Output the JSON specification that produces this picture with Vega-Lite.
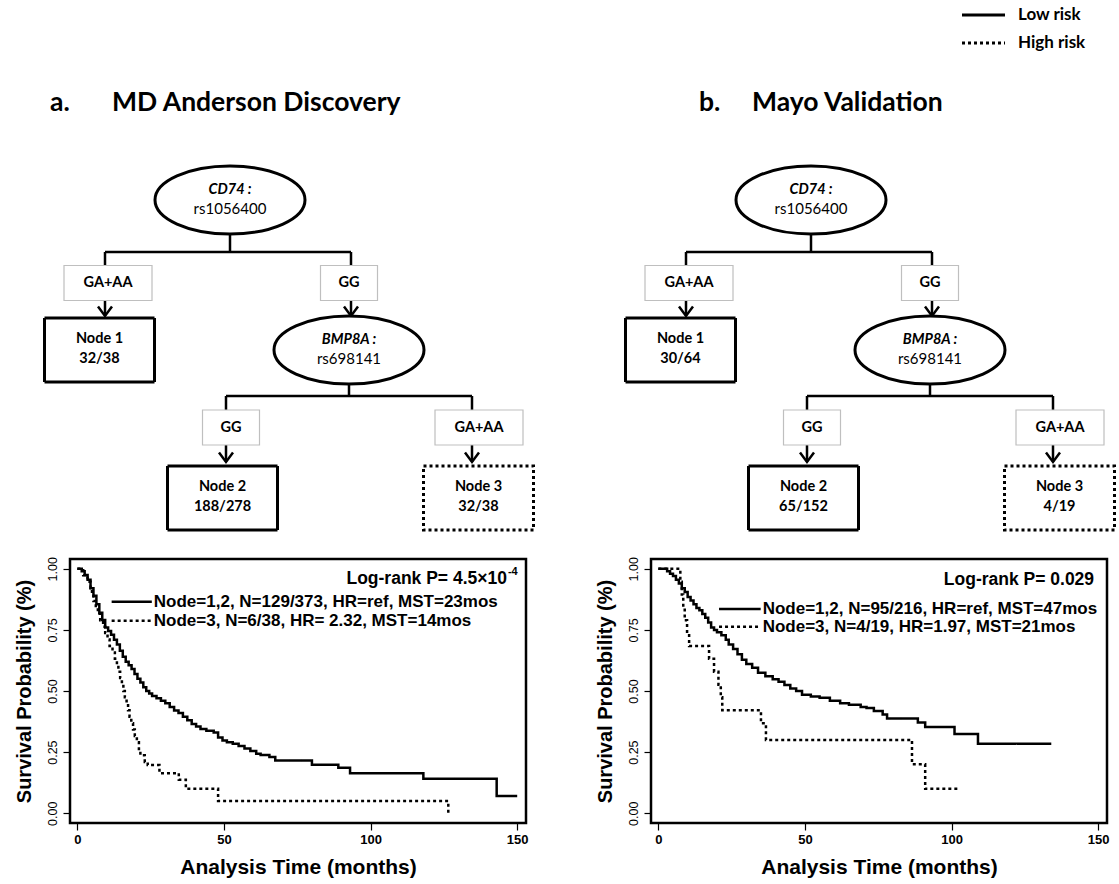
{
  "$schema": "https://vega.github.io/schema/vega-lite/v6.json",
  "background": "white",
  "padding": {"left": 12, "top": 0, "right": 5, "bottom": 5},
  "config": {
    "view": {"stroke": null},
    "font": "Liberation Sans",
    "axis": {"labelColor": "black", "titleColor": "black", "tickColor": "black", "grid": false, "domain": false}
  },
  "datasets": {
    "km_mda": [
      {"risk": "Low risk", "month": 0, "surv": 1.0}, {"risk": "Low risk", "month": 1.5, "surv": 0.99}, {"risk": "Low risk", "month": 2.5, "surv": 0.975}, {"risk": "Low risk", "month": 3.5, "surv": 0.955}, {"risk": "Low risk", "month": 4.5, "surv": 0.92}, {"risk": "Low risk", "month": 5.5, "surv": 0.89}, {"risk": "Low risk", "month": 6.5, "surv": 0.855}, {"risk": "Low risk", "month": 7.5, "surv": 0.82}, {"risk": "Low risk", "month": 8.5, "surv": 0.79}, {"risk": "Low risk", "month": 9.5, "surv": 0.76}, {"risk": "Low risk", "month": 10.5, "surv": 0.745}, {"risk": "Low risk", "month": 11.5, "surv": 0.73}, {"risk": "Low risk", "month": 12.5, "surv": 0.71}, {"risk": "Low risk", "month": 13.5, "surv": 0.69}, {"risk": "Low risk", "month": 14.5, "surv": 0.665}, {"risk": "Low risk", "month": 15.5, "surv": 0.64}, {"risk": "Low risk", "month": 16.5, "surv": 0.62}, {"risk": "Low risk", "month": 17.5, "surv": 0.605}, {"risk": "Low risk", "month": 18.5, "surv": 0.59}, {"risk": "Low risk", "month": 19.5, "surv": 0.57}, {"risk": "Low risk", "month": 20.5, "surv": 0.55}, {"risk": "Low risk", "month": 21.5, "surv": 0.535}, {"risk": "Low risk", "month": 22.5, "surv": 0.515}, {"risk": "Low risk", "month": 23.5, "surv": 0.5}, {"risk": "Low risk", "month": 24.5, "surv": 0.49}, {"risk": "Low risk", "month": 25.5, "surv": 0.48}, {"risk": "Low risk", "month": 27, "surv": 0.47}, {"risk": "Low risk", "month": 28.5, "surv": 0.46}, {"risk": "Low risk", "month": 30, "surv": 0.45}, {"risk": "Low risk", "month": 31.5, "surv": 0.435}, {"risk": "Low risk", "month": 33, "surv": 0.42}, {"risk": "Low risk", "month": 34.5, "surv": 0.41}, {"risk": "Low risk", "month": 36, "surv": 0.395}, {"risk": "Low risk", "month": 37.5, "surv": 0.38}, {"risk": "Low risk", "month": 39, "surv": 0.365}, {"risk": "Low risk", "month": 40.5, "surv": 0.355}, {"risk": "Low risk", "month": 42, "surv": 0.345}, {"risk": "Low risk", "month": 44, "surv": 0.337}, {"risk": "Low risk", "month": 46.5, "surv": 0.33}, {"risk": "Low risk", "month": 48, "surv": 0.31}, {"risk": "Low risk", "month": 49.5, "surv": 0.298}, {"risk": "Low risk", "month": 51, "surv": 0.29}, {"risk": "Low risk", "month": 53, "surv": 0.284}, {"risk": "Low risk", "month": 55, "surv": 0.275}, {"risk": "Low risk", "month": 57, "surv": 0.265}, {"risk": "Low risk", "month": 59, "surv": 0.255}, {"risk": "Low risk", "month": 61, "surv": 0.243}, {"risk": "Low risk", "month": 62.5, "surv": 0.238}, {"risk": "Low risk", "month": 65.5, "surv": 0.23}, {"risk": "Low risk", "month": 67.5, "surv": 0.216}, {"risk": "Low risk", "month": 80, "surv": 0.198}, {"risk": "Low risk", "month": 89, "surv": 0.186}, {"risk": "Low risk", "month": 93, "surv": 0.164}, {"risk": "Low risk", "month": 118, "surv": 0.141}, {"risk": "Low risk", "month": 143, "surv": 0.07}, {"risk": "Low risk", "month": 150, "surv": 0.07},
      {"risk": "High risk", "month": 0, "surv": 1.0}, {"risk": "High risk", "month": 2, "surv": 0.974}, {"risk": "High risk", "month": 3.5, "surv": 0.947}, {"risk": "High risk", "month": 4.5, "surv": 0.921}, {"risk": "High risk", "month": 5, "surv": 0.895}, {"risk": "High risk", "month": 5.5, "surv": 0.868}, {"risk": "High risk", "month": 6.3, "surv": 0.842}, {"risk": "High risk", "month": 7, "surv": 0.816}, {"risk": "High risk", "month": 7.8, "surv": 0.789}, {"risk": "High risk", "month": 8.8, "surv": 0.763}, {"risk": "High risk", "month": 9.5, "surv": 0.737}, {"risk": "High risk", "month": 10.3, "surv": 0.711}, {"risk": "High risk", "month": 11, "surv": 0.684}, {"risk": "High risk", "month": 12, "surv": 0.658}, {"risk": "High risk", "month": 12.8, "surv": 0.632}, {"risk": "High risk", "month": 13.5, "surv": 0.605}, {"risk": "High risk", "month": 14, "surv": 0.579}, {"risk": "High risk", "month": 14.6, "surv": 0.553}, {"risk": "High risk", "month": 15.2, "surv": 0.526}, {"risk": "High risk", "month": 15.7, "surv": 0.5}, {"risk": "High risk", "month": 16.2, "surv": 0.474}, {"risk": "High risk", "month": 16.8, "surv": 0.447}, {"risk": "High risk", "month": 17.3, "surv": 0.421}, {"risk": "High risk", "month": 17.8, "surv": 0.395}, {"risk": "High risk", "month": 18.4, "surv": 0.368}, {"risk": "High risk", "month": 19, "surv": 0.342}, {"risk": "High risk", "month": 19.6, "surv": 0.316}, {"risk": "High risk", "month": 20.3, "surv": 0.29}, {"risk": "High risk", "month": 21, "surv": 0.263}, {"risk": "High risk", "month": 21.5, "surv": 0.237}, {"risk": "High risk", "month": 23, "surv": 0.21}, {"risk": "High risk", "month": 24, "surv": 0.197}, {"risk": "High risk", "month": 28, "surv": 0.164}, {"risk": "High risk", "month": 34.6, "surv": 0.137}, {"risk": "High risk", "month": 37, "surv": 0.1}, {"risk": "High risk", "month": 48, "surv": 0.05}, {"risk": "High risk", "month": 126.5, "surv": 0.0}, {"risk": "High risk", "month": 127, "surv": 0.0}
    ],
    "km_mayo": [
      {"risk": "Low risk", "month": 0, "surv": 1.0}, {"risk": "Low risk", "month": 3, "surv": 0.99}, {"risk": "Low risk", "month": 4, "surv": 0.98}, {"risk": "Low risk", "month": 5, "surv": 0.97}, {"risk": "Low risk", "month": 6, "surv": 0.955}, {"risk": "Low risk", "month": 7, "surv": 0.94}, {"risk": "Low risk", "month": 8, "surv": 0.92}, {"risk": "Low risk", "month": 9, "surv": 0.905}, {"risk": "Low risk", "month": 10, "surv": 0.885}, {"risk": "Low risk", "month": 11, "surv": 0.87}, {"risk": "Low risk", "month": 12, "surv": 0.855}, {"risk": "Low risk", "month": 13, "surv": 0.84}, {"risk": "Low risk", "month": 14, "surv": 0.83}, {"risk": "Low risk", "month": 15, "surv": 0.815}, {"risk": "Low risk", "month": 16, "surv": 0.8}, {"risk": "Low risk", "month": 17, "surv": 0.78}, {"risk": "Low risk", "month": 18, "surv": 0.76}, {"risk": "Low risk", "month": 19, "surv": 0.75}, {"risk": "Low risk", "month": 20, "surv": 0.74}, {"risk": "Low risk", "month": 21.5, "surv": 0.728}, {"risk": "Low risk", "month": 23, "surv": 0.71}, {"risk": "Low risk", "month": 24, "surv": 0.69}, {"risk": "Low risk", "month": 25.5, "surv": 0.672}, {"risk": "Low risk", "month": 27, "surv": 0.65}, {"risk": "Low risk", "month": 28.5, "surv": 0.628}, {"risk": "Low risk", "month": 30, "surv": 0.61}, {"risk": "Low risk", "month": 32, "surv": 0.595}, {"risk": "Low risk", "month": 34, "surv": 0.575}, {"risk": "Low risk", "month": 36.5, "surv": 0.56}, {"risk": "Low risk", "month": 39, "surv": 0.548}, {"risk": "Low risk", "month": 41, "surv": 0.538}, {"risk": "Low risk", "month": 43, "surv": 0.525}, {"risk": "Low risk", "month": 45, "surv": 0.51}, {"risk": "Low risk", "month": 47, "surv": 0.5}, {"risk": "Low risk", "month": 49, "surv": 0.485}, {"risk": "Low risk", "month": 52, "surv": 0.478}, {"risk": "Low risk", "month": 55, "surv": 0.472}, {"risk": "Low risk", "month": 58.5, "surv": 0.46}, {"risk": "Low risk", "month": 62, "surv": 0.45}, {"risk": "Low risk", "month": 65, "surv": 0.444}, {"risk": "Low risk", "month": 69, "surv": 0.435}, {"risk": "Low risk", "month": 71, "surv": 0.43}, {"risk": "Low risk", "month": 73.5, "surv": 0.418}, {"risk": "Low risk", "month": 76.5, "surv": 0.404}, {"risk": "Low risk", "month": 78, "surv": 0.388}, {"risk": "Low risk", "month": 88.5, "surv": 0.371}, {"risk": "Low risk", "month": 91, "surv": 0.353}, {"risk": "Low risk", "month": 101, "surv": 0.324}, {"risk": "Low risk", "month": 109, "surv": 0.284}, {"risk": "Low risk", "month": 134, "surv": 0.284},
      {"risk": "High risk", "month": 0, "surv": 1.0}, {"risk": "High risk", "month": 7.5, "surv": 0.947}, {"risk": "High risk", "month": 8, "surv": 0.895}, {"risk": "High risk", "month": 8.5, "surv": 0.842}, {"risk": "High risk", "month": 9, "surv": 0.789}, {"risk": "High risk", "month": 9.8, "surv": 0.737}, {"risk": "High risk", "month": 10.5, "surv": 0.684}, {"risk": "High risk", "month": 17.3, "surv": 0.632}, {"risk": "High risk", "month": 19, "surv": 0.579}, {"risk": "High risk", "month": 20.5, "surv": 0.526}, {"risk": "High risk", "month": 21.3, "surv": 0.474}, {"risk": "High risk", "month": 21.8, "surv": 0.421}, {"risk": "High risk", "month": 35, "surv": 0.368}, {"risk": "High risk", "month": 36.7, "surv": 0.3}, {"risk": "High risk", "month": 86.5, "surv": 0.2}, {"risk": "High risk", "month": 91, "surv": 0.1}, {"risk": "High risk", "month": 102, "surv": 0.1}
    ],
    "keys_mda": [
      {"risk": "Low risk", "month": 11.7, "month_end": 25.4, "surv": 0.865, "label": "Node=1,2, N=129/373, HR=ref, MST=23mos"},
      {"risk": "High risk", "month": 11.7, "month_end": 25.4, "surv": 0.787, "label": "Node=3, N=6/38, HR= 2.32, MST=14mos"}
    ],
    "keys_mayo": [
      {"risk": "Low risk", "month": 20.7, "month_end": 34.9, "surv": 0.835, "label": "Node=1,2, N=95/216, HR=ref, MST=47mos"},
      {"risk": "High risk", "month": 20.7, "month_end": 34.9, "surv": 0.763, "label": "Node=3, N=4/19, HR=1.97, MST=21mos"}
    ],
    "notes_mda": [{"month": 146.5, "surv": 0.958, "text": "Log-rank P= 4.5×10", "sup": "-4"}],
    "notes_mayo": [{"month": 148.6, "surv": 0.955, "text": "Log-rank P= 0.029", "sup": ""}],
    "edges": [
      {"x": 160, "y": 234, "x2": 160, "y2": 252},
      {"x": 35, "y": 252, "x2": 281, "y2": 252},
      {"x": 35, "y": 252, "x2": 35, "y2": 266},
      {"x": 281, "y": 252, "x2": 281, "y2": 266},
      {"x": 279, "y": 384, "x2": 279, "y2": 396},
      {"x": 156, "y": 396, "x2": 402, "y2": 396},
      {"x": 156, "y": 396, "x2": 156, "y2": 410},
      {"x": 402, "y": 396, "x2": 402, "y2": 410}
    ],
    "arrows": [
      {"x": 35, "y": 300, "tip": 316},
      {"x": 281, "y": 300, "tip": 316},
      {"x": 156, "y": 445, "tip": 462},
      {"x": 402, "y": 445, "tip": 462}
    ],
    "splits": [
      {"x": 160, "y": 200, "gene": "CD74 :", "snp": "rs1056400"},
      {"x": 279, "y": 350, "gene": "BMP8A :", "snp": "rs698141"}
    ],
    "branches": [
      {"x": 38, "y": 283, "genotype": "GA+AA"},
      {"x": 279, "y": 283, "genotype": "GG"},
      {"x": 161, "y": 427.5, "genotype": "GG"},
      {"x": 409, "y": 427.5, "genotype": "GA+AA"}
    ],
    "leaves": [
      {"cohort": "MDA", "x": 29.5, "y": 350, "node": "Node 1", "count": "32/38", "risk": "Low risk"},
      {"cohort": "MDA", "x": 152.5, "y": 498, "node": "Node 2", "count": "188/278", "risk": "Low risk"},
      {"cohort": "MDA", "x": 408.5, "y": 498, "node": "Node 3", "count": "32/38", "risk": "High risk"},
      {"cohort": "Mayo", "x": 29.5, "y": 350, "node": "Node 1", "count": "30/64", "risk": "Low risk"},
      {"cohort": "Mayo", "x": 152.5, "y": 498, "node": "Node 2", "count": "65/152", "risk": "Low risk"},
      {"cohort": "Mayo", "x": 408.5, "y": 498, "node": "Node 3", "count": "4/19", "risk": "High risk"}
    ],
    "titles": [
      {"cohort": "MDA", "x": -20, "x_name": 42, "y": 103, "letter": "a.", "name": "MD Anderson Discovery"},
      {"cohort": "Mayo", "x": 48, "x_name": 101, "y": 103, "letter": "b.", "name": "Mayo Validation"}
    ],
    "risk_key": [
      {"risk": "Low risk", "x": 311, "x2": 354, "y": 15},
      {"risk": "High risk", "x": 311, "x2": 354, "y": 43}
    ]
  },
  "bounds": "flush",
  "spacing": 581,
  "hconcat": [
    {
      "bounds": "flush",
      "spacing": 11,
      "vconcat": [
        {
          "width": 456,
          "height": 548,
          "encoding": {
            "x": {"field": "x", "type": "quantitative", "scale": {"domain": [0, 456]}, "axis": null},
            "y": {"field": "y", "type": "quantitative", "scale": {"domain": [0, 548], "reverse": true}, "axis": null}
          },
          "layer": [
            {"data": {"name": "edges"}, "mark": {"type": "rule", "color": "black", "strokeWidth": 2.5}, "encoding": {"x2": {"field": "x2"}, "y2": {"field": "y2"}}},
            {"data": {"name": "arrows"}, "mark": {"type": "rule", "color": "black", "strokeWidth": 2.5}, "encoding": {"y2": {"field": "tip"}}},
            {"data": {"name": "arrows"}, "mark": {"type": "point", "shape": "M-0.14,-0.19L0,0L0.14,-0.19", "size": 10000, "filled": false, "stroke": "black", "strokeWidth": 2.5, "opacity": 1, "strokeCap": "butt"}, "encoding": {"y": {"field": "tip", "type": "quantitative", "scale": {"domain": [0, 548], "reverse": true}, "axis": null}}},
            {"data": {"name": "branches"}, "mark": {"type": "point", "size": 10000, "filled": true, "fill": "white", "stroke": "#bfbfbf", "strokeWidth": 1.2, "opacity": 1}, "encoding": {"shape": {"field": "genotype", "type": "nominal", "scale": {"domain": ["GA+AA", "GG"], "range": ["M-0.88,-0.35H0.88V0.35H-0.88Z", "M-0.57,-0.35H0.57V0.35H-0.57Z"]}, "legend": null}}},
            {"data": {"name": "branches"}, "mark": {"type": "text", "font": "Lato", "fontWeight": "bold", "fontSize": 14.5, "color": "black", "baseline": "middle"}, "encoding": {"text": {"field": "genotype"}}},
            {"data": {"name": "splits"}, "mark": {"type": "point", "shape": "M-1.5,0C-1.5,-0.376,-0.828,-0.68,0,-0.68C0.828,-0.68,1.5,-0.376,1.5,0C1.5,0.376,0.828,0.68,0,0.68C-0.828,0.68,-1.5,0.376,-1.5,0Z", "size": 10000, "filled": true, "fill": "white", "stroke": "black", "strokeWidth": 3, "opacity": 1}},
            {"data": {"name": "splits"}, "mark": {"type": "text", "font": "Lato", "fontWeight": "bold", "fontStyle": "italic", "fontSize": 14.5, "color": "black", "baseline": "middle", "dy": -10}, "encoding": {"text": {"field": "gene"}}},
            {"data": {"name": "splits"}, "mark": {"type": "text", "font": "Lato", "fontWeight": "normal", "fontSize": 15, "color": "black", "baseline": "middle", "dy": 9}, "encoding": {"text": {"field": "snp"}}},
            {"data": {"name": "leaves"}, "transform": [{"filter": "datum.cohort === 'MDA'"}], "mark": {"type": "point", "shape": "M-1.1,-0.64H1.1V0.64H-1.1Z", "size": 10000, "filled": true, "fill": "white", "stroke": "black", "strokeWidth": 3, "opacity": 1}, "encoding": {"strokeDash": {"field": "risk", "type": "nominal", "scale": {"domain": ["Low risk", "High risk"], "range": [[1, 0], [3, 3]]}, "legend": null}}},
            {"data": {"name": "leaves"}, "transform": [{"filter": "datum.cohort === 'MDA'"}], "mark": {"type": "text", "font": "Lato", "fontWeight": "bold", "fontSize": 14.5, "color": "black", "baseline": "middle", "dy": -11}, "encoding": {"text": {"field": "node"}}},
            {"data": {"name": "leaves"}, "transform": [{"filter": "datum.cohort === 'MDA'"}], "mark": {"type": "text", "font": "Lato", "fontWeight": "bold", "fontSize": 14.5, "color": "black", "baseline": "middle", "dy": 9}, "encoding": {"text": {"field": "count"}}},
            {"data": {"name": "titles"}, "transform": [{"filter": "datum.cohort === 'MDA'"}], "mark": {"type": "text", "font": "Lato", "fontWeight": "bold", "fontSize": 26.5, "color": "black", "baseline": "middle", "align": "left"}, "encoding": {"text": {"field": "letter"}}},
            {"data": {"name": "titles"}, "transform": [{"filter": "datum.cohort === 'MDA'"}], "mark": {"type": "text", "font": "Lato", "fontWeight": "bold", "fontSize": 26.5, "color": "black", "baseline": "middle", "align": "left"}, "encoding": {"x": {"field": "x_name", "type": "quantitative", "scale": {"domain": [0, 456]}, "axis": null}, "text": {"field": "name"}}}
          ]
        },
        {
          "width": 456,
          "height": 264,
          "view": {"stroke": "black", "strokeWidth": 2.5},
          "layer": [
            {
              "data": {"name": "km_mda"},
              "mark": {"type": "line", "interpolate": "step-after", "color": "black", "strokeWidth": 2.5},
              "encoding": {
                "x": {"field": "month", "type": "quantitative", "scale": {"domain": [-2.5, 153], "nice": false, "zero": false},
                  "axis": {"values": [0, 50, 100, 150], "title": "Analysis Time (months)", "tickSize": 7, "tickWidth": 1.2, "labelFont": "Liberation Sans", "labelFontWeight": "bold", "labelFontSize": 13, "labelPadding": 3, "labelFlush": false, "titleFont": "Liberation Sans", "titleFontSize": 21, "titleFontWeight": "bold", "titlePadding": 10}},
                "y": {"field": "surv", "type": "quantitative", "scale": {"domain": [-0.04, 1.04], "nice": false, "zero": false},
                  "axis": {"values": [0, 0.25, 0.5, 0.75, 1], "format": ".2f", "title": "Survival Probability (%)", "labelAngle": 270, "tickSize": 7, "tickWidth": 1.2, "labelFont": "Liberation Sans", "labelFontSize": 12.5, "labelFontWeight": "normal", "labelPadding": 4, "labelFlush": false, "titleFont": "Liberation Sans", "titleFontSize": 20, "titleFontWeight": "bold", "titlePadding": 12}},
                "strokeDash": {"field": "risk", "type": "nominal", "scale": {"domain": ["Low risk", "High risk"], "range": [[1, 0], [2.5, 3]]}, "legend": null}
              }
            },
            {
              "data": {"name": "keys_mda"},
              "mark": {"type": "rule", "color": "black", "strokeWidth": 2.5},
              "encoding": {
                "x": {"field": "month", "type": "quantitative", "scale": {"domain": [-2.5, 153], "nice": false, "zero": false}},
                "x2": {"field": "month_end"},
                "y": {"field": "surv", "type": "quantitative", "scale": {"domain": [-0.04, 1.04], "nice": false, "zero": false}},
                "strokeDash": {"field": "risk", "type": "nominal", "legend": null}
              }
            },
            {
              "data": {"name": "keys_mda"},
              "mark": {"type": "text", "align": "left", "baseline": "middle", "dx": 2, "fontSize": 17, "fontWeight": "bold", "font": "Liberation Sans", "color": "black"},
              "encoding": {
                "x": {"field": "month_end", "type": "quantitative", "scale": {"domain": [-2.5, 153], "nice": false, "zero": false}},
                "y": {"field": "surv", "type": "quantitative", "scale": {"domain": [-0.04, 1.04], "nice": false, "zero": false}},
                "text": {"field": "label"}
              }
            },
            {
              "data": {"name": "notes_mda"},
              "mark": {"type": "text", "align": "right", "baseline": "middle", "fontSize": 17.5, "fontWeight": "bold", "font": "Liberation Sans", "color": "black"},
              "encoding": {
                "x": {"field": "month", "type": "quantitative", "scale": {"domain": [-2.5, 153], "nice": false, "zero": false}},
                "y": {"field": "surv", "type": "quantitative", "scale": {"domain": [-0.04, 1.04], "nice": false, "zero": false}},
                "text": {"field": "text"}
              }
            },
            {
              "data": {"name": "notes_mda"},
              "mark": {"type": "text", "align": "left", "baseline": "middle", "dx": 1, "dy": -7, "fontSize": 11, "fontWeight": "bold", "font": "Liberation Sans", "color": "black"},
              "encoding": {
                "x": {"field": "month", "type": "quantitative", "scale": {"domain": [-2.5, 153], "nice": false, "zero": false}},
                "y": {"field": "surv", "type": "quantitative", "scale": {"domain": [-0.04, 1.04], "nice": false, "zero": false}},
                "text": {"field": "sup"}
              }
            }
          ]
        }
      ]
    },
    {
      "bounds": "flush",
      "spacing": 11,
      "vconcat": [
        {
          "width": 456,
          "height": 548,
          "encoding": {
            "x": {"field": "x", "type": "quantitative", "scale": {"domain": [0, 456]}, "axis": null},
            "y": {"field": "y", "type": "quantitative", "scale": {"domain": [0, 548], "reverse": true}, "axis": null}
          },
          "layer": [
            {"data": {"name": "edges"}, "mark": {"type": "rule", "color": "black", "strokeWidth": 2.5}, "encoding": {"x2": {"field": "x2"}, "y2": {"field": "y2"}}},
            {"data": {"name": "arrows"}, "mark": {"type": "rule", "color": "black", "strokeWidth": 2.5}, "encoding": {"y2": {"field": "tip"}}},
            {"data": {"name": "arrows"}, "mark": {"type": "point", "shape": "M-0.14,-0.19L0,0L0.14,-0.19", "size": 10000, "filled": false, "stroke": "black", "strokeWidth": 2.5, "opacity": 1, "strokeCap": "butt"}, "encoding": {"y": {"field": "tip", "type": "quantitative", "scale": {"domain": [0, 548], "reverse": true}, "axis": null}}},
            {"data": {"name": "branches"}, "mark": {"type": "point", "size": 10000, "filled": true, "fill": "white", "stroke": "#bfbfbf", "strokeWidth": 1.2, "opacity": 1}, "encoding": {"shape": {"field": "genotype", "type": "nominal", "scale": {"domain": ["GA+AA", "GG"], "range": ["M-0.88,-0.35H0.88V0.35H-0.88Z", "M-0.57,-0.35H0.57V0.35H-0.57Z"]}, "legend": null}}},
            {"data": {"name": "branches"}, "mark": {"type": "text", "font": "Lato", "fontWeight": "bold", "fontSize": 14.5, "color": "black", "baseline": "middle"}, "encoding": {"text": {"field": "genotype"}}},
            {"data": {"name": "splits"}, "mark": {"type": "point", "shape": "M-1.5,0C-1.5,-0.376,-0.828,-0.68,0,-0.68C0.828,-0.68,1.5,-0.376,1.5,0C1.5,0.376,0.828,0.68,0,0.68C-0.828,0.68,-1.5,0.376,-1.5,0Z", "size": 10000, "filled": true, "fill": "white", "stroke": "black", "strokeWidth": 3, "opacity": 1}},
            {"data": {"name": "splits"}, "mark": {"type": "text", "font": "Lato", "fontWeight": "bold", "fontStyle": "italic", "fontSize": 14.5, "color": "black", "baseline": "middle", "dy": -10}, "encoding": {"text": {"field": "gene"}}},
            {"data": {"name": "splits"}, "mark": {"type": "text", "font": "Lato", "fontWeight": "normal", "fontSize": 15, "color": "black", "baseline": "middle", "dy": 9}, "encoding": {"text": {"field": "snp"}}},
            {"data": {"name": "leaves"}, "transform": [{"filter": "datum.cohort === 'Mayo'"}], "mark": {"type": "point", "shape": "M-1.1,-0.64H1.1V0.64H-1.1Z", "size": 10000, "filled": true, "fill": "white", "stroke": "black", "strokeWidth": 3, "opacity": 1}, "encoding": {"strokeDash": {"field": "risk", "type": "nominal", "scale": {"domain": ["Low risk", "High risk"], "range": [[1, 0], [3, 3]]}, "legend": null}}},
            {"data": {"name": "leaves"}, "transform": [{"filter": "datum.cohort === 'Mayo'"}], "mark": {"type": "text", "font": "Lato", "fontWeight": "bold", "fontSize": 14.5, "color": "black", "baseline": "middle", "dy": -11}, "encoding": {"text": {"field": "node"}}},
            {"data": {"name": "leaves"}, "transform": [{"filter": "datum.cohort === 'Mayo'"}], "mark": {"type": "text", "font": "Lato", "fontWeight": "bold", "fontSize": 14.5, "color": "black", "baseline": "middle", "dy": 9}, "encoding": {"text": {"field": "count"}}},
            {"data": {"name": "titles"}, "transform": [{"filter": "datum.cohort === 'Mayo'"}], "mark": {"type": "text", "font": "Lato", "fontWeight": "bold", "fontSize": 26.5, "color": "black", "baseline": "middle", "align": "left"}, "encoding": {"text": {"field": "letter"}}},
            {"data": {"name": "titles"}, "transform": [{"filter": "datum.cohort === 'Mayo'"}], "mark": {"type": "text", "font": "Lato", "fontWeight": "bold", "fontSize": 26.5, "color": "black", "baseline": "middle", "align": "left"}, "encoding": {"x": {"field": "x_name", "type": "quantitative", "scale": {"domain": [0, 456]}, "axis": null}, "text": {"field": "name"}}},
            {"data": {"name": "risk_key"}, "mark": {"type": "rule", "color": "black", "strokeWidth": 3}, "encoding": {"x2": {"field": "x2"}, "strokeDash": {"field": "risk", "type": "nominal", "scale": {"domain": ["Low risk", "High risk"], "range": [[1, 0], [3, 3]]}, "legend": null}}},
            {"data": {"name": "risk_key"}, "mark": {"type": "text", "font": "Lato", "fontWeight": "bold", "fontSize": 17, "color": "black", "baseline": "middle", "align": "left", "dx": 13}, "encoding": {"x": {"field": "x2", "type": "quantitative", "scale": {"domain": [0, 456]}, "axis": null}, "text": {"field": "risk"}}}
          ]
        },
        {
          "width": 456,
          "height": 264,
          "view": {"stroke": "black", "strokeWidth": 2.5},
          "layer": [
            {
              "data": {"name": "km_mayo"},
              "mark": {"type": "line", "interpolate": "step-after", "color": "black", "strokeWidth": 2.5},
              "encoding": {
                "x": {"field": "month", "type": "quantitative", "scale": {"domain": [-2.5, 153], "nice": false, "zero": false},
                  "axis": {"values": [0, 50, 100, 150], "title": "Analysis Time (months)", "tickSize": 7, "tickWidth": 1.2, "labelFont": "Liberation Sans", "labelFontWeight": "bold", "labelFontSize": 13, "labelPadding": 3, "labelFlush": false, "titleFont": "Liberation Sans", "titleFontSize": 21, "titleFontWeight": "bold", "titlePadding": 10}},
                "y": {"field": "surv", "type": "quantitative", "scale": {"domain": [-0.04, 1.04], "nice": false, "zero": false},
                  "axis": {"values": [0, 0.25, 0.5, 0.75, 1], "format": ".2f", "title": "Survival Probability (%)", "labelAngle": 270, "tickSize": 7, "tickWidth": 1.2, "labelFont": "Liberation Sans", "labelFontSize": 12.5, "labelFontWeight": "normal", "labelPadding": 4, "labelFlush": false, "titleFont": "Liberation Sans", "titleFontSize": 20, "titleFontWeight": "bold", "titlePadding": 12}},
                "strokeDash": {"field": "risk", "type": "nominal", "scale": {"domain": ["Low risk", "High risk"], "range": [[1, 0], [2.5, 3]]}, "legend": null}
              }
            },
            {
              "data": {"name": "keys_mayo"},
              "mark": {"type": "rule", "color": "black", "strokeWidth": 2.5},
              "encoding": {
                "x": {"field": "month", "type": "quantitative", "scale": {"domain": [-2.5, 153], "nice": false, "zero": false}},
                "x2": {"field": "month_end"},
                "y": {"field": "surv", "type": "quantitative", "scale": {"domain": [-0.04, 1.04], "nice": false, "zero": false}},
                "strokeDash": {"field": "risk", "type": "nominal", "legend": null}
              }
            },
            {
              "data": {"name": "keys_mayo"},
              "mark": {"type": "text", "align": "left", "baseline": "middle", "dx": 2, "fontSize": 17, "fontWeight": "bold", "font": "Liberation Sans", "color": "black"},
              "encoding": {
                "x": {"field": "month_end", "type": "quantitative", "scale": {"domain": [-2.5, 153], "nice": false, "zero": false}},
                "y": {"field": "surv", "type": "quantitative", "scale": {"domain": [-0.04, 1.04], "nice": false, "zero": false}},
                "text": {"field": "label"}
              }
            },
            {
              "data": {"name": "notes_mayo"},
              "mark": {"type": "text", "align": "right", "baseline": "middle", "fontSize": 17.5, "fontWeight": "bold", "font": "Liberation Sans", "color": "black"},
              "encoding": {
                "x": {"field": "month", "type": "quantitative", "scale": {"domain": [-2.5, 153], "nice": false, "zero": false}},
                "y": {"field": "surv", "type": "quantitative", "scale": {"domain": [-0.04, 1.04], "nice": false, "zero": false}},
                "text": {"field": "text"}
              }
            }
          ]
        }
      ]
    }
  ]
}
